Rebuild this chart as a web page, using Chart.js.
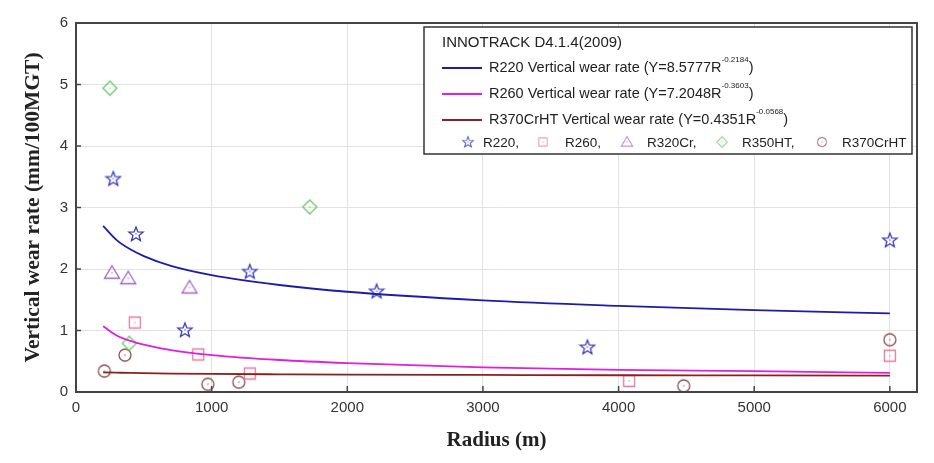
<!DOCTYPE html>
<html>
<head>
<meta charset="utf-8">
<script src="https://cdn.jsdelivr.net/npm/chart.js@4.4.1/dist/chart.umd.min.js"></script>
<style>
  html, body { margin: 0; padding: 0; background: #fff; }
  #wrap { width: 934px; height: 463px; }
</style>
</head>
<body>
<div id="wrap"><canvas id="wearChart"></canvas></div>
<script>
// fitted curves
const fitRadius = [200, 300, 400, 500, 700, 1000, 1500, 2000, 3000, 4000, 5000, 6000];
const r220Fit = [2.70, 2.47, 2.32, 2.21, 2.05, 1.90, 1.74, 1.63, 1.49, 1.40, 1.33, 1.28];
const r260Fit = [1.07, 0.92, 0.83, 0.77, 0.68, 0.60, 0.52, 0.47, 0.40, 0.36, 0.34, 0.31];
const r370Fit = [0.32, 0.315, 0.31, 0.306, 0.30, 0.294, 0.288, 0.283, 0.277, 0.272, 0.269, 0.266];

// measured points
const r220Radius = [275, 442, 803, 1281, 2216, 3770, 6000];
const r220Rate = [3.47, 2.57, 1.01, 1.96, 1.64, 0.73, 2.47];
const r260Radius = [434, 901, 1281, 4078, 6000];
const r260Rate = [1.13, 0.61, 0.30, 0.18, 0.59];
const r320Radius = [265, 385, 837];
const r320Rate = [1.94, 1.85, 1.70];
const r350Radius = [250, 393, 1723];
const r350Rate = [4.94, 0.79, 3.01];
const r370Radius = [209, 361, 972, 1200, 4480, 6000];
const r370Rate = [0.34, 0.60, 0.125, 0.16, 0.10, 0.85];

const xTicks = [0, 1000, 2000, 3000, 4000, 5000, 6000];
const yTicks = [0, 1, 2, 3, 4, 5, 6];

const pairs = (xs, ys) => xs.map((x, i) => ({ x: x, y: ys[i] }));

function makeMarker(shape, color) {
    const s = 18;
    const c = document.createElement("canvas");
    c.width = s; c.height = s;
    const g = c.getContext("2d");
    const m = s / 2;
    g.strokeStyle = color;
    g.lineWidth = 1.3;
    g.beginPath();
    if (shape === "star") {
        for (let i = 0; i < 10; i++) {
            const r = i % 2 === 0 ? 7.5 : 3.2;
            const a = -Math.PI / 2 + i * Math.PI / 5;
            const px = m + r * Math.cos(a), py = m + 0.5 + r * Math.sin(a);
            if (i === 0) g.moveTo(px, py); else g.lineTo(px, py);
        }
        g.closePath();
    } else if (shape === "square") {
        g.rect(m - 5.5, m - 5.5, 11, 11);
    } else if (shape === "triangle") {
        g.moveTo(m, m - 7);
        g.lineTo(m + 7.5, m + 5.5);
        g.lineTo(m - 7.5, m + 5.5);
        g.closePath();
    } else if (shape === "diamond") {
        g.moveTo(m, m - 7);
        g.lineTo(m + 7, m);
        g.lineTo(m, m + 7);
        g.lineTo(m - 7, m);
        g.closePath();
    } else {
        g.arc(m, m, 6, 0, Math.PI * 2);
    }
    g.stroke();
    g.fillStyle = color;
    g.fillRect(m - 0.6, m - 0.6, 1.2, 1.2);
    return c;
}

const markers = {
    r220: makeMarker("star", "#3a3ab8"),
    r260: makeMarker("square", "#e07a98"),
    r320: makeMarker("triangle", "#9b63cc"),
    r350: makeMarker("diamond", "#66cc66"),
    r370: makeMarker("circle", "#8c5252")
};

const lineColors = ["#1c1ca8", "#e01ee0", "#8b2020"];

const legendBox = {
    id: "legendBox",
    afterDraw(chart) {
        const ctx = chart.ctx;
        const a = chart.chartArea;
        const xs = chart.scales.x, ys = chart.scales.y;
        ctx.save();
        // frame around plot and short inner ticks
        ctx.strokeStyle = "#444";
        ctx.lineWidth = 2;
        ctx.strokeRect(a.left, a.top, a.right - a.left, a.bottom - a.top);
        ctx.lineWidth = 1.5;
        ctx.beginPath();
        xTicks.forEach(v => {
            const px = xs.getPixelForValue(v);
            ctx.moveTo(px, a.bottom);
            ctx.lineTo(px, a.bottom - 6);
        });
        yTicks.forEach(v => {
            const py = ys.getPixelForValue(v);
            ctx.moveTo(a.left, py);
            ctx.lineTo(a.left + 5, py);
        });
        ctx.stroke();

        // legend box
        ctx.fillStyle = "#fff";
        ctx.fillRect(424, 27, 488, 127);
        ctx.strokeStyle = "#333";
        ctx.lineWidth = 1.5;
        ctx.strokeRect(424, 27, 488, 127);

        ctx.fillStyle = "#222";
        ctx.textBaseline = "middle";
        ctx.font = "15px 'Liberation Sans', Arial";
        ctx.fillText("INNOTRACK D4.1.4(2009)", 442, 43);

        const rows = [
            ["R220 Vertical wear rate (Y=8.5777R", "-0.2184", 68],
            ["R260 Vertical wear rate (Y=7.2048R", "-0.3603", 94],
            ["R370CrHT Vertical wear rate (Y=0.4351R", "-0.0568", 120]
        ];
        rows.forEach((r, i) => {
            ctx.strokeStyle = lineColors[i];
            ctx.lineWidth = 1.8;
            ctx.beginPath();
            ctx.moveTo(442, r[2]);
            ctx.lineTo(482, r[2]);
            ctx.stroke();
            ctx.fillStyle = "#222";
            ctx.font = "14.5px 'Liberation Sans', Arial";
            ctx.fillText(r[0], 489, r[2]);
            let x = 489 + ctx.measureText(r[0]).width;
            ctx.font = "8px 'Liberation Sans', Arial";
            ctx.fillText(r[1], x, r[2] - 8);
            x += ctx.measureText(r[1]).width;
            ctx.font = "14.5px 'Liberation Sans', Arial";
            ctx.fillText(")", x, r[2]);
        });

        const items = [
            [markers.r220, 468, "R220,", 483],
            [markers.r260, 543, "R260,", 565],
            [markers.r320, 627, "R320Cr,", 647],
            [markers.r350, 722, "R350HT,", 742],
            [markers.r370, 822, "R370CrHT", 842]
        ];
        items.forEach(it => {
            ctx.save();
            ctx.globalAlpha = 0.85;
            ctx.translate(it[1], 142);
            ctx.scale(0.75, 0.75);
            ctx.drawImage(it[0], -9, -9);
            ctx.restore();
            ctx.fillStyle = "#222";
            ctx.font = "13.5px 'Liberation Sans', Arial";
            ctx.fillText(it[2], it[3], 143);
        });
        ctx.restore();
    }
};

new Chart(document.querySelector("#wearChart"), {
    type: "scatter",
    data: {
        datasets: [
            {
                label: "R220 Vertical wear rate",
                data: pairs(fitRadius, r220Fit),
                showLine: true,
                borderColor: lineColors[0],
                borderWidth: 1.8,
                pointRadius: 0,
                cubicInterpolationMode: "monotone"
            },
            {
                label: "R260 Vertical wear rate",
                data: pairs(fitRadius, r260Fit),
                showLine: true,
                borderColor: lineColors[1],
                borderWidth: 1.8,
                pointRadius: 0,
                cubicInterpolationMode: "monotone"
            },
            {
                label: "R370CrHT Vertical wear rate",
                data: pairs(fitRadius, r370Fit),
                showLine: true,
                borderColor: lineColors[2],
                borderWidth: 1.8,
                pointRadius: 0,
                cubicInterpolationMode: "monotone"
            },
            { label: "R220", data: pairs(r220Radius, r220Rate), pointStyle: markers.r220 },
            { label: "R260", data: pairs(r260Radius, r260Rate), pointStyle: markers.r260 },
            { label: "R320Cr", data: pairs(r320Radius, r320Rate), pointStyle: markers.r320 },
            { label: "R350HT", data: pairs(r350Radius, r350Rate), pointStyle: markers.r350 },
            { label: "R370CrHT", data: pairs(r370Radius, r370Rate), pointStyle: markers.r370 }
        ]
    },
    options: {
        responsive: true,
        maintainAspectRatio: false,
        animation: false,
        layout: { padding: { top: 23, right: 17, left: 21, bottom: 8 } },
        plugins: {
            legend: { display: false },
            tooltip: { enabled: false }
        },
        scales: {
            x: {
                type: "linear",
                min: 0,
                max: 6200,
                afterFit: s => { s.height = 63; },
                afterBuildTicks: s => { s.ticks = xTicks.map(v => ({ value: v })); },
                ticks: {
                    color: "#333",
                    font: { family: "'Liberation Sans', Arial", size: 15 },
                    padding: 7,
                    callback: v => String(v)
                },
                grid: { color: "#e2e2e2", drawTicks: false },
                border: { display: false },
                title: {
                    display: true,
                    text: "Radius (m)",
                    color: "#222",
                    font: { family: "'Liberation Serif', 'Times New Roman'", size: 21, weight: "bold" },
                    padding: { top: 0, bottom: 2 }
                }
            },
            y: {
                min: 0,
                max: 6,
                afterFit: s => { s.width = 55; },
                afterBuildTicks: s => { s.ticks = yTicks.map(v => ({ value: v })); },
                ticks: { color: "#333", font: { family: "'Liberation Sans', Arial", size: 15 }, padding: 8 },
                grid: { color: "#e2e2e2", drawTicks: false },
                border: { display: false },
                title: {
                    display: true,
                    text: "Vertical wear rate (mm/100MGT)",
                    color: "#222",
                    font: { family: "'Liberation Serif', 'Times New Roman'", size: 21.5, weight: "bold" },
                    padding: { top: 0, bottom: 0 }
                }
            }
        }
    },
    plugins: [legendBox]
});
</script>
</body>
</html>
